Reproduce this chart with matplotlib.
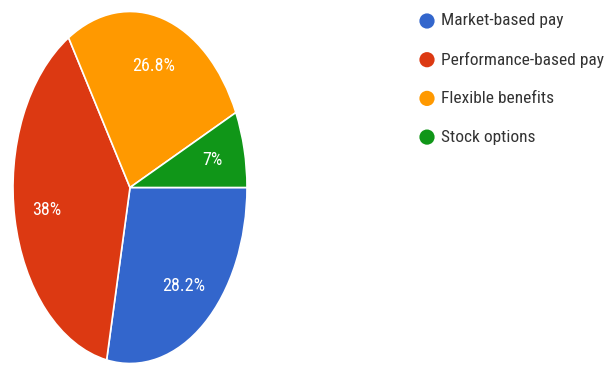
import matplotlib.pyplot as plt

# Share of respondents per compensation type
labels = ['Market-based pay', 'Performance-based pay', 'Flexible benefits', 'Stock options']
shares = [28.2, 38, 26.8, 7]
colors = ['#3366CC', '#DC3912', '#FF9900', '#109618']

plt.rcParams['font.family'] = ['Roboto Condensed', 'DejaVu Sans']

fig = plt.figure(figsize=(6.11, 3.65), dpi=100)

# Pie drawn in a tall axes with free aspect, so it comes out oval
ax = fig.add_axes([13 / 611, 1.5 / 365, 234 / 611, 352 / 365])
wedges, texts, autotexts = ax.pie(
    shares,
    colors=colors,
    startangle=0,
    counterclock=False,
    autopct=lambda p: f'{round(p, 1):g}%',
    pctdistance=0.72,
    wedgeprops=dict(edgecolor='white', linewidth=1.2),
    textprops=dict(color='white', fontsize=13),
)
ax.set_aspect('auto')
ax.set_xlim(-1, 1)
ax.set_ylim(-1, 1)

# Legend on the right: dots plus labels
lax = fig.add_axes([0, 0, 1, 1])
lax.set_xlim(0, 611)
lax.set_ylim(365, 0)
lax.axis('off')
for i, (lab, col) in enumerate(zip(labels, colors)):
    y = 21 + i * 38.7
    lax.scatter([427], [y], s=120, color=col, edgecolors='none')
    lax.text(441, y, lab, fontsize=12.5, color='#333333', va='center', ha='left')

plt.savefig('out.png', dpi=100)
